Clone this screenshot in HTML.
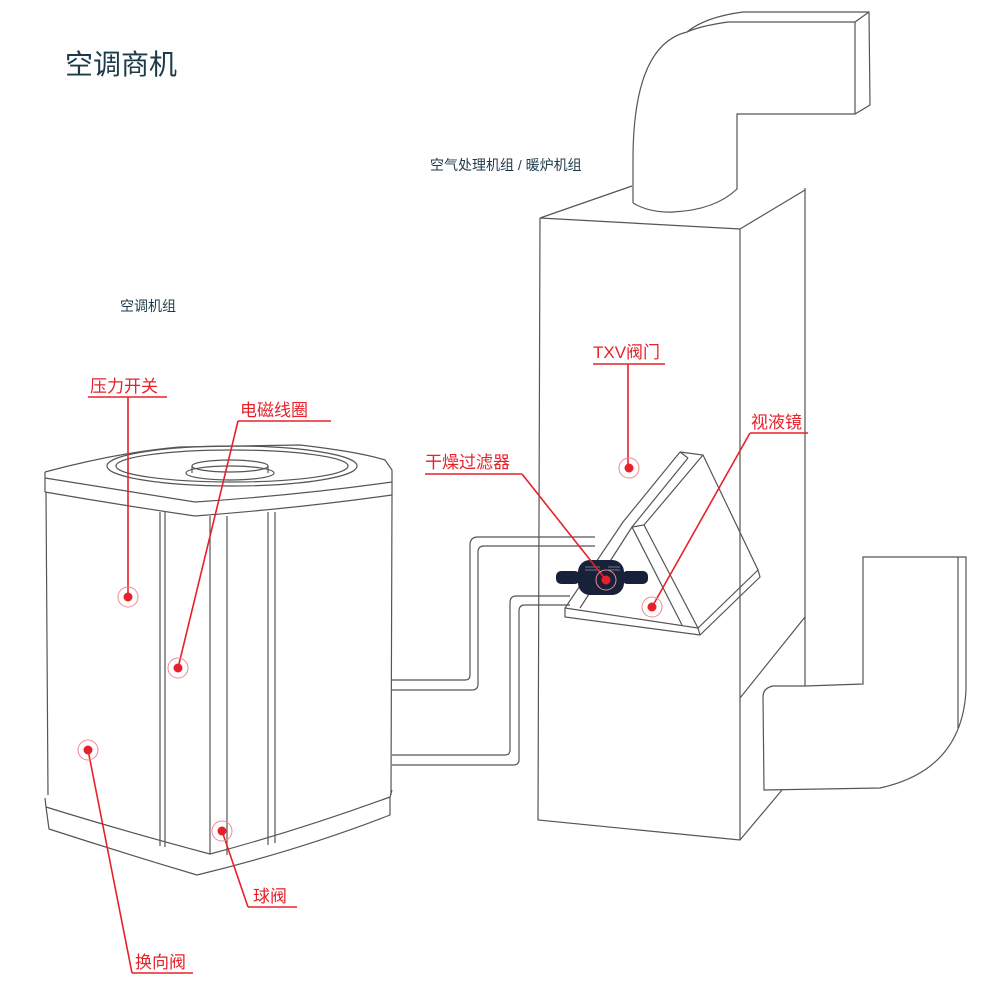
<!DOCTYPE html>
<html><head><meta charset="utf-8"><style>
body{margin:0;background:#fff}
svg{display:block}
text{font-family:"Liberation Sans","Noto Sans CJK SC",sans-serif}
</style></head><body>
<svg width="988" height="983" viewBox="0 0 988 983" xmlns="http://www.w3.org/2000/svg">
<g fill="none" stroke="#555" stroke-width="1.2">
<!-- outdoor unit -->
<path d="M45,472 Q120,452 180,447 L300,445 Q360,452 385,460 L392,470"/>
<path d="M45,478 Q120,490 195,502 Q300,495 392,482"/>
<path d="M45,492 Q120,505 195,516 Q300,508 392,495"/>
<path d="M45,472 L45,492 M392,470 L392,495"/>
<ellipse cx="232" cy="466" rx="125" ry="20"/>
<ellipse cx="232" cy="466" rx="116" ry="16"/>
<ellipse cx="230" cy="473" rx="44" ry="7"/>
<ellipse cx="230" cy="466" rx="38" ry="6"/>
<path d="M192,466 L192,473 M268,466 L268,473"/>
<path d="M46,492 L48,795 M392,495 L391,795"/>
<path d="M160,512 L160,846 M165,512 L165,847 M210,516 L210,854 M227,516 L227,855 M268,512 L268,845 M275,512 L275,843"/>
<path d="M45,798 L46,807 Q120,830 210,854 Q300,830 390,797 L392,790"/>
<path d="M46,807 L49,829 Q120,852 197,875 Q300,850 390,815 L390,797"/>
<!-- pipes -->
<path d="M392,680 L465,680 Q470,680 470,675 L470,545 Q470,537 478,537 L595,537"/>
<path d="M392,690 L472,690 Q478,690 478,684 L478,552 Q478,546 484,546 L595,546"/>
<path d="M392,755 L505,755 Q510,755 510,750 L510,603 Q510,596 516,596 L570,596"/>
<path d="M392,765 L513,765 Q519,765 519,760 L519,611 Q519,605 525,605 L570,605"/>
<!-- AHU -->
<path d="M540,218 L538,820 L740,840 L782,790"/>
<path d="M805,188 L805,686"/>
<path d="M540,218 L632,186 M740,229 L740,840 M540,218 L740,229 L805,190"/>
<path d="M805,617 L740,698"/>
<!-- top duct -->
<path d="M633,203 Q650,213 673,212 Q715,210 737,189 L737,114 L855,114 L870,105 L869,12 L743,12 Q705,17 687,32"/>
<path d="M633,203 L633,160 Q633,45 687,32 Q700,26 728,22 L855,22 L869,12 M855,22 L855,114"/>
<!-- right duct -->
<path d="M805,686 L773,686 Q763,688 763,697 L764,790 L880,788 Q962,770 966,690 L966,557 L863,557 L863,684 L805,686"/>
<path d="M958,557 L958,728"/>
<!-- coil -->
<path d="M680,452 L703,455 L758,570 L760,577 L700,635 L565,617 L565,608 L623,522 L680,452"/>
<path d="M688,458 L632,527 L580,608"/>
<path d="M680,452 L688,458 M703,455 L644,525 L632,527 M644,525 L698,628 L758,570 M632,527 L682,625"/>
<path d="M565,608 L698,628 L700,635"/>
</g>
<!-- filter drier -->
<g fill="#18213a">
<rect x="578" y="560" width="46" height="35" rx="12"/>
<rect x="556" y="571" width="24" height="13" rx="5"/>
<rect x="622" y="571" width="26" height="13" rx="5"/>
</g>
<g stroke="#8a93a8" stroke-width="0.8"><path d="M585,567 L600,567 M608,567 L620,567 M585,570 L600,570 M608,570 L620,570"/></g>
<!-- callouts -->
<g stroke="#e8202a" stroke-width="1.6" fill="none">
<path d="M88,397 L167,397 M128,397 L128,597"/>
<path d="M238,421 L331,421 M238,421 L178,668"/>
<path d="M425,474 L522,474 M522,474 L606,580"/>
<path d="M593,364 L665,364 M628,364 L628,467"/>
<path d="M750,433 L808,433 M750,433 L652,607"/>
<path d="M248,907 L297,907 M248,907 L222,831"/>
<path d="M132,973 L193,973 M132,973 L88,750"/>
</g>
<g fill="#e8202a">
<circle cx="128" cy="597" r="4.5"/><circle cx="178" cy="668" r="4.5"/><circle cx="606" cy="580" r="4.5"/>
<circle cx="629" cy="468" r="4.5"/><circle cx="652" cy="607" r="4.5"/><circle cx="222" cy="831" r="4.5"/><circle cx="88" cy="750" r="4.5"/>
</g>
<g fill="none" stroke="#f08890" stroke-width="1">
<circle cx="128" cy="597" r="10"/><circle cx="178" cy="668" r="10"/><circle cx="606" cy="580" r="10"/>
<circle cx="629" cy="468" r="10"/><circle cx="652" cy="607" r="10"/><circle cx="222" cy="831" r="10"/><circle cx="88" cy="750" r="10"/>
</g>
<g fill="#e8202a" font-size="17">
<text x="90" y="392">压力开关</text>
<text x="240" y="416">电磁线圈</text>
<text x="425" y="468">干燥过滤器</text>
<text x="593" y="358">TXV阀门</text>
<text x="751" y="428">视液镜</text>
<text x="253" y="902">球阀</text>
<text x="135" y="968">换向阀</text>
</g>
<text x="65" y="74" font-size="28" fill="#1d3a4a">空调商机</text>
<text x="430" y="170" font-size="14" fill="#1d3a4a">空气处理机组 / 暖炉机组</text>
<text x="120" y="311" font-size="14" fill="#1d3a4a">空调机组</text>
</svg>
</body></html>
